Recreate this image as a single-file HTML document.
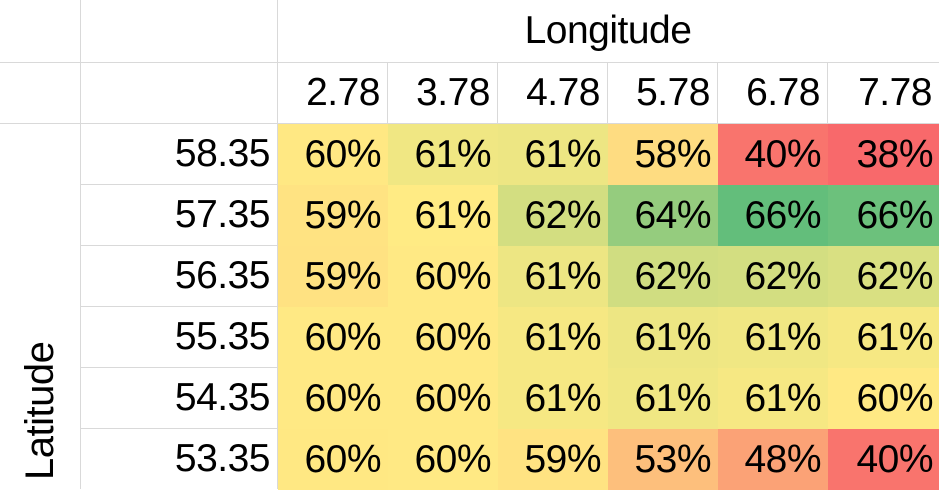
<!DOCTYPE html>
<html><head><meta charset="utf-8"><style>
body{margin:0;background:#fff;width:939px;height:489px;overflow:hidden;font-family:"Liberation Sans",sans-serif;}
#wrap{position:relative;width:939px;height:489px;}
.c{position:absolute;box-sizing:border-box;font-size:39px;color:#000;text-align:right;padding-right:7px;letter-spacing:-0.5px;}
.g{position:absolute;background:#d9d9d9;}
</style></head><body>
<div id="wrap"></div>
<script>
const lons=["2.78","3.78","4.78","5.78","6.78","7.78"];
const lats=["58.35","57.35","56.35","55.35","54.35","53.35"];
const row0=[60.2,61.2,61.3,58.0,40.0,38.0];
const row1=[59.3,60.7,62.2,64.3,66.0,65.7];
const row2=[59.2,60.4,61.3,62.3,62.2,62.0];
const row3=[60.3,60.4,61.0,61.3,61.2,61.0];
const row4=[60.3,60.4,61.0,61.2,61.0,60.4];
const row5=[60.2,60.3,59.3,53.0,48.0,40.0];
const rows=[row0,row1,row2,row3,row4,row5];
const W=document.getElementById('wrap');
const colX=[0,80,277,387,497,607,717,827,939];
const rowY=[0,62,123,184,245,306,367,428,489];
const all=rows.flat(),mn=Math.min(...all),mx=Math.max(...all),md=60.7;
function mix(a,b,t){return a.map((v,i)=>Math.round(v+(b[i]-v)*t));}
function color(v){const R=[248,105,107],Y=[255,235,132],G=[99,190,123];
 const c=v<md?mix(R,Y,(v-mn)/(md-mn)):mix(Y,G,(v-md)/(mx-md));return `rgb(${c})`;}
function line(x,y,w,h){const g=document.createElement('div');g.className='g';
 g.style.cssText=`left:${x}px;top:${y}px;width:${w}px;height:${h}px`;
 
 W.appendChild(g);}
// vertical lines
line(80,0,1,489);line(277,0,1,489);
for(let i=3;i<colX.length;i++){line(colX[i],62,1,427);}
// horizontal lines
line(0,62,939,1);line(0,123,939,1);
for(let i=3;i<rowY.length-1;i++){line(80,rowY[i],859,1);}
function cell(x0,x1,y0,y1,txt,bg){const d=document.createElement('div');d.className='c';
 d.style.cssText=`left:${x0}px;top:${y0}px;width:${x1-x0}px;height:${y1-y0}px;line-height:${y1-y0}px;`+(bg?`background:${bg};`:'');
 d.textContent=txt;W.appendChild(d);return d;}
const t=cell(277,939,0,62,"Longitude");t.style.textAlign='center';t.style.paddingRight='0';


lons.forEach((l,j)=>{const d=cell(colX[j+2],colX[j+3],62,123,l);
 
 });
lats.forEach((l,i)=>{const d=cell(80,277,rowY[i+2],rowY[i+3],l);
 
 
 rows[i].forEach((v,j)=>{const c=cell(colX[j+2]+1,colX[j+3]+1,rowY[i+2]+1,rowY[i+3]+1,Math.round(v)+"%",color(v));
  
  });});
const lt=document.createElement('div');
lt.style.cssText='position:absolute;left:40px;top:489px;transform-origin:0 0;transform:rotate(-90deg) translate(0,-24px);font-size:40px;line-height:48px;white-space:nowrap;padding-left:9px;letter-spacing:-0.5px;';
lt.textContent='Latitude';


W.appendChild(lt);
</script></body></html>
